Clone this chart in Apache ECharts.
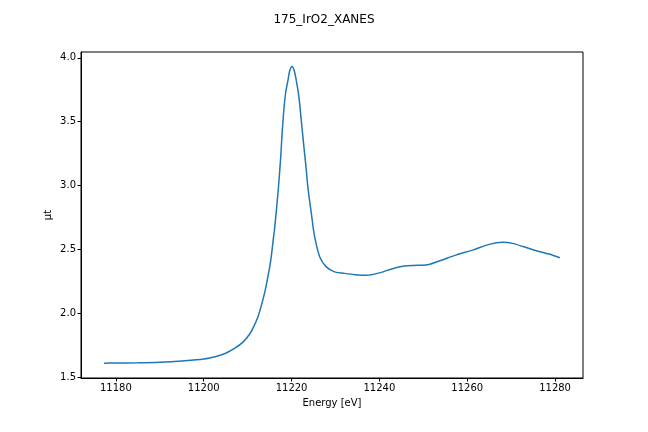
<!DOCTYPE html>
<html lang="en">
<head>
    <meta charset="UTF-8">
    <title>175_IrO2_XANES</title>
    <script src="https://cdn.jsdelivr.net/npm/echarts@6/dist/echarts.min.js"></script>
    <style>
        html, body { margin: 0; padding: 0; background: #fff; }
    </style>
</head>
<body>
<div id="main" style="width: 648px;height:432px;"></div>
<script type="text/javascript">
    // values
    var energy = [
        11177.3, 11180, 11185, 11190, 11195, 11200, 11203, 11205, 11207, 11209,
        11210.5, 11211.3, 11212.35, 11213.25, 11214.0, 11214.6, 11215.15, 11215.5, 11215.9, 11216.1,
        11216.9, 11217.5, 11217.8, 11218.18, 11218.64, 11219.2, 11219.55, 11220.07, 11220.6, 11221.05,
        11221.66, 11222.2, 11222.8, 11223.3, 11223.7, 11224.5, 11225.2, 11226.4, 11227.9, 11229.8,
        11232, 11234.5, 11237, 11240, 11243, 11245.7, 11247.6, 11250.6, 11253.6, 11257.4,
        11261.2, 11265, 11268, 11270.3, 11274.8, 11278.6, 11281.1
    ];
    var mu = [
        1.610, 1.611, 1.613, 1.618, 1.628, 1.643, 1.665, 1.688, 1.725, 1.777,
        1.840, 1.890, 1.973, 2.078, 2.182, 2.286, 2.390, 2.480, 2.600, 2.652,
        2.940, 3.210, 3.383, 3.567, 3.723, 3.828, 3.895, 3.932, 3.900, 3.828,
        3.697, 3.514, 3.305, 3.140, 2.990, 2.783, 2.610, 2.443, 2.364, 2.325,
        2.313, 2.303, 2.298, 2.317, 2.350, 2.370, 2.375, 2.378, 2.410, 2.456,
        2.495, 2.540, 2.556, 2.548, 2.500, 2.464, 2.435
    ];
    var xTicks = [11180, 11200, 11220, 11240, 11260, 11280];
    var yTicks = [1.5, 2.0, 2.5, 3.0, 3.5, 4.0];

    var font = 'DejaVu Sans';
    var myChart = echarts.init(document.getElementById('main'));

    var option = {
        animation: false,
        title: {
            text: '175_IrO2_XANES',
            left: 'center',
            top: 9,
            textStyle: { fontFamily: font, fontSize: 12, fontWeight: 'normal', color: '#000' }
        },
        grid: {
            left: 81, right: 65, top: 52, bottom: 54,
            show: true, borderColor: '#000', borderWidth: 1, backgroundColor: 'transparent'
        },
        xAxis: {
            type: 'value',
            min: 11172.05,
            max: 11286.36,
            name: 'Energy [eV]',
            nameLocation: 'middle',
            nameGap: 20,
            nameMoveOverlap: false,
            nameTextStyle: { fontFamily: font, fontSize: 10, color: '#000' },
            axisLine: { show: true, lineStyle: { color: '#000', width: 1 } },
            axisTick: { show: true, length: 3.5, lineStyle: { color: '#000' }, customValues: xTicks },
            axisLabel: {
                fontFamily: font, fontSize: 10, color: '#000', margin: 5, customValues: xTicks,
                formatter: function (v) { return String(v); }
            },
            splitLine: { show: false }
        },
        yAxis: {
            type: 'value',
            min: 1.494,
            max: 4.046,
            name: 'μt',
            nameLocation: 'middle',
            nameGap: 28,
            nameRotate: 90,
            nameMoveOverlap: false,
            nameTextStyle: { fontFamily: font, fontSize: 10, color: '#000' },
            axisLine: { show: true, lineStyle: { color: '#000', width: 1 } },
            axisTick: { show: true, length: 3.5, lineStyle: { color: '#000' }, customValues: yTicks },
            axisLabel: {
                fontFamily: font, fontSize: 10, color: '#000', margin: 5, customValues: yTicks,
                formatter: function (v) { return v.toFixed(1); }
            },
            splitLine: { show: false }
        },
        series: [{
            type: 'line',
            data: energy.map(function (e, i) { return [e, mu[i]]; }),
            showSymbol: false,
            smooth: 0.3,
            lineStyle: { color: '#1f77b4', width: 1.5 }
        }]
    };
    myChart.setOption(option);
</script>
</body>
</html>
